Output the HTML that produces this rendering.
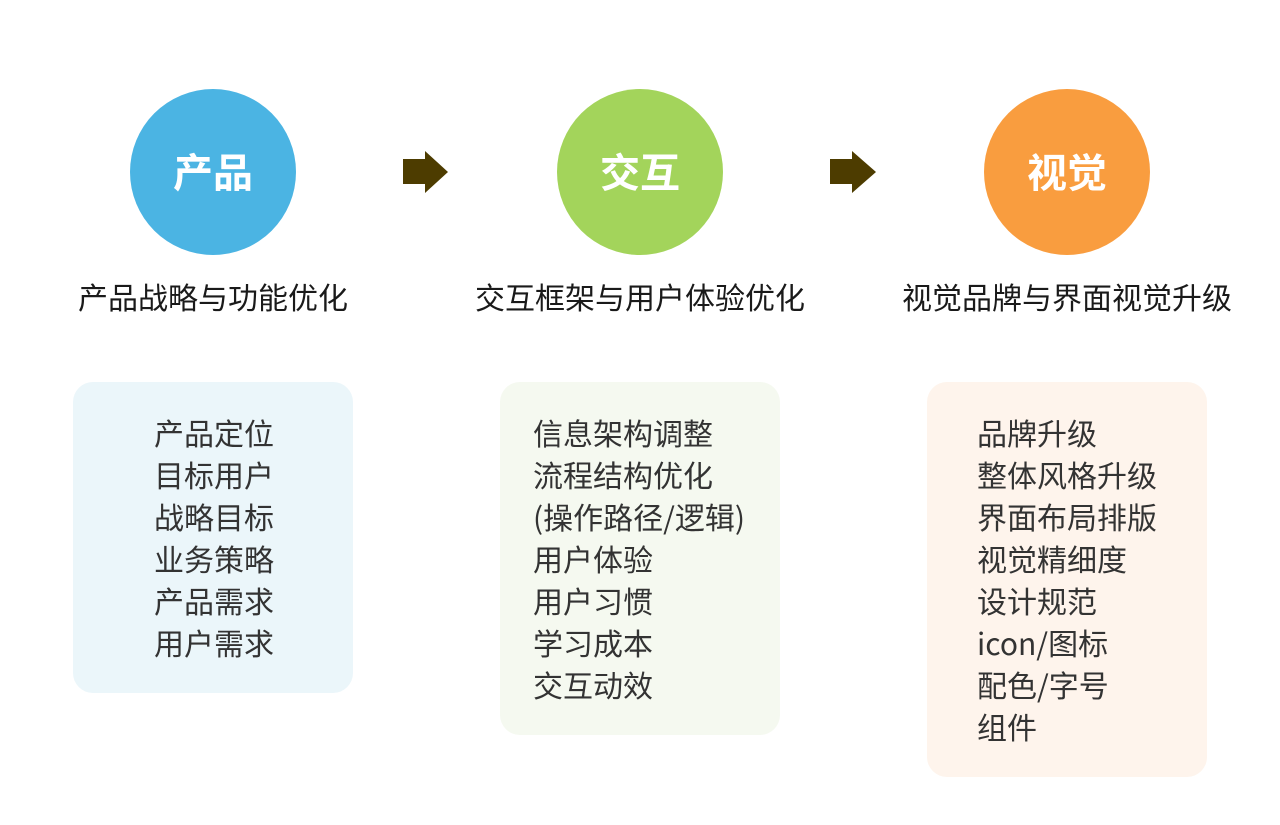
<!DOCTYPE html>
<html><head><meta charset="utf-8">
<style>
html,body{margin:0;padding:0;background:#fff;}
body{width:1280px;height:825px;position:relative;overflow:hidden;font-family:"Noto Sans CJK SC","Liberation Sans",sans-serif;}
.c{position:absolute;width:166px;height:166px;border-radius:50%;top:89px;color:#fff;font-weight:bold;font-size:40px;line-height:162px;text-align:center;}
.sub{position:absolute;top:275px;width:420px;text-align:center;font-size:30px;line-height:42px;color:#1a1a1a;}
.box{position:absolute;top:382px;width:280px;border-radius:20px;}
.t{position:absolute;top:411px;font-size:30px;line-height:42px;color:#333;white-space:nowrap;}
</style></head><body>
<div class="c" style="left:130px;background:#4bb4e3;">产品</div>
<div class="c" style="left:557px;background:#a3d45b;">交互</div>
<div class="c" style="left:984px;background:#f99d3f;">视觉</div>

<svg style="position:absolute;left:0;top:0" width="1280" height="825">
<polygon points="403,159 425,159 425,151 448,172 425,193 425,184 403,184" fill="#4d3c00"/>
<polygon points="830,159 852,159 852,151 876,172 852,193 852,184 830,184" fill="#4d3c00"/>
</svg>

<div class="sub" style="left:3px;">产品战略与功能优化</div>
<div class="sub" style="left:430px;">交互框架与用户体验优化</div>
<div class="sub" style="left:857px;">视觉品牌与界面视觉升级</div>

<div class="box" style="left:73px;height:311px;background:#ebf6fa;"></div>
<div class="box" style="left:500px;height:353px;background:#f5f9f0;"></div>
<div class="box" style="left:927px;height:395px;background:#fef4ec;"></div>

<div class="t" style="left:154px;">产品定位<br>目标用户<br>战略目标<br>业务策略<br>产品需求<br>用户需求</div>
<div class="t" style="left:533px;">信息架构调整<br>流程结构优化<br>(操作路径/逻辑)<br>用户体验<br>用户习惯<br>学习成本<br>交互动效</div>
<div class="t" style="left:977px;">品牌升级<br>整体风格升级<br>界面布局排版<br>视觉精细度<br>设计规范<br>icon/图标<br>配色/字号<br>组件</div>
</body></html>
